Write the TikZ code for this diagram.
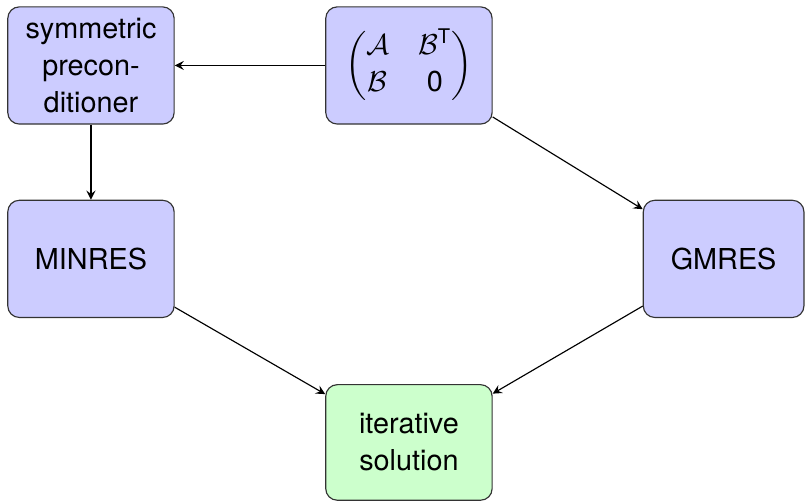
\documentclass[tikz,border=0pt]{standalone}
\usepackage{amsmath}
\usepackage{fontspec}
\setmainfont{TeX Gyre Heros}
\usetikzlibrary{shapes.geometric, arrows}
\tikzstyle{process} = [rectangle, rounded corners=4pt, minimum width=2.03cm, minimum height=1.43cm, text centered, align=center, font={\fontsize{10}{12.8}\selectfont}, draw=black!80, fill=blue!20]
\tikzstyle{result} = [rectangle, rounded corners=4pt, minimum width=2.03cm, minimum height=1.41cm, text centered, align=center, font={\fontsize{10}{12.8}\selectfont}, draw=black!80, fill=green!20]
\tikzstyle{arrow} = [->,>=stealth]

\begin{document}
\begin{tikzpicture}[node distance=2.36cm]
\useasboundingbox (-1.110,-5.314) rectangle (8.713,0.799);

\node (sym) [process] {symmetric\\precon-\\ditioner};
\node (mat) [process, right of=sym, node distance=3.88cm] {$\begin{pmatrix} \mathcal{A} & \mathcal{B}^{\mathrm{T}} \\ \mathcal{B} & \mathrm{0} \end{pmatrix}$};
\node (minres) [process, below of=sym] {MINRES};
\node (gmres) [process, below of=mat, xshift=3.84cm, minimum width=1.96cm] {GMRES};
\node (iter) [result, below of=mat, node distance=4.60cm] {iterative\\solution};

\draw [arrow] (mat) -- (sym);
\draw [arrow] (sym) -- (minres);
\draw [arrow] (mat) -- (gmres);
\draw [arrow] (minres) -- (iter);
\draw [arrow] (gmres) -- (iter);

\end{tikzpicture}
\end{document}
